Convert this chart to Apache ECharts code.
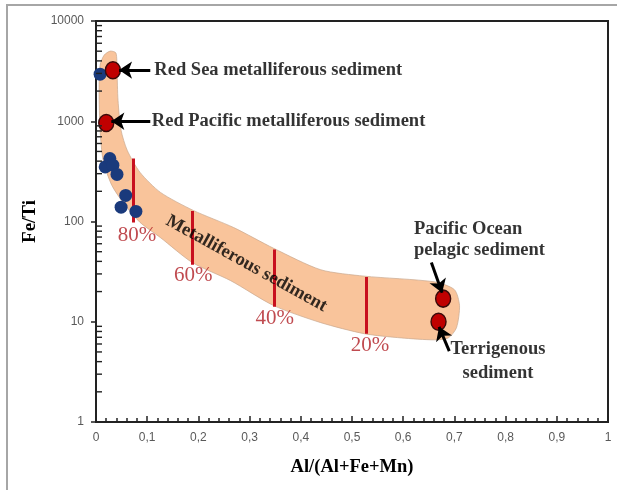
<!DOCTYPE html>
<html>
<head>
<meta charset="utf-8">
<script src="https://cdn.jsdelivr.net/npm/echarts@6/dist/echarts.min.js"></script>
<style>
html, body { margin: 0; padding: 0; background: #fff; }
#chart { width: 617px; height: 490px; }
</style>
</head>
<body>
<div id="chart"></div>
<script>
// sample points
var blueX = [0.008, 0.018, 0.027, 0.033, 0.041, 0.058, 0.049, 0.078];
var blueY = [2950, 350, 425, 365, 295, 182, 139, 126];
var redX = [0.033, 0.020, 0.678, 0.669];
var redY = [3230, 960, 17, 10];

// metalliferous sediment band outline (upper edge then lower edge)
var bandX = [0.016, 0.028, 0.039, 0.041, 0.043, 0.049, 0.061, 0.086, 0.126, 0.19, 0.269, 0.347, 0.439, 0.524, 0.661, 0.70, 0.71, 0.704, 0.688,
             0.661, 0.596, 0.524, 0.439, 0.347, 0.263, 0.188, 0.126, 0.086, 0.057, 0.031, 0.014, 0.008, 0.006, 0.008];
var bandY = [4570, 5010, 4790, 3240, 1620, 813, 513, 309, 195, 129, 87, 54, 33, 28.5, 25, 20.9, 14.5, 8.7, 6.9,
             6.6, 6.9, 7.6, 9.8, 14.5, 25.7, 39, 69, 98, 145, 229, 407, 813, 2040, 3630];

// mixing lines
var pctX = [0.072, 0.188, 0.349, 0.527];
var pctLow = [98, 37, 14.1, 7.6];
var pctHigh = [424, 127, 52.5, 28];
var pctText = ['80%', '60%', '40%', '20%'];
var pctLabX = [0.080, 0.190, 0.349, 0.535];
var pctLabY = [72, 28.8, 10.7, 5.75];

// annotations
var noteText = ['Red Sea metalliferous sediment', 'Red Pacific metalliferous sediment', 'Pacific Ocean\npelagic sediment'];
var noteX = [0.114, 0.109, 0.621];
var noteY = [3236, 1000, 66];
var arrowFrom = [[0.106, 3236], [0.106, 1000], [0.655, 38.9], [0.690, 5.1]];
var arrowTo = [[0.045, 3236], [0.030, 1000], [0.676, 19.5], [0.670, 8.9]];

// log minor ticks on the Fe/Ti axis
var yMinorTicks = [2, 3, 4, 5, 6, 7, 8, 9, 20, 30, 40, 50, 60, 70, 80, 90,
                   200, 300, 400, 500, 600, 700, 800, 900, 2000, 3000, 4000, 5000, 6000, 7000, 8000, 9000];

var chart = echarts.init(document.getElementById('chart'));

var serif = 'Liberation Serif';

var option = {
    animation: false,
    graphic: [{
        type: 'polyline',
        shape: { points: [[7, 490], [7, 5], [617, 5]] },
        style: { stroke: '#a6a6a6', lineWidth: 2, fill: null }
    }],
    grid: {
        left: 96, right: 9, top: 21, bottom: 68,
        show: true, borderColor: '#222', borderWidth: 2
    },
    xAxis: {
        type: 'value',
        min: 0, max: 1, interval: 0.1,
        name: 'Al/(Al+Fe+Mn)',
        nameLocation: 'middle',
        nameGap: 36,
        nameTextStyle: { fontFamily: serif, fontWeight: 'bold', fontSize: 18.5, color: '#000' },
        axisLine: { lineStyle: { color: '#222', width: 2 } },
        axisTick: { show: true, inside: true, length: 6, lineStyle: { color: '#222', width: 1.5 } },
        minorTick: { show: true, splitNumber: 5, length: 4, lineStyle: { color: '#222', width: 1.5 } },
        splitLine: { show: false },
        axisLabel: {
            color: '#595959', fontSize: 12, fontFamily: 'Liberation Sans', margin: 10,
            formatter: function (v) { return String(Math.round(v * 10) / 10).replace('.', ','); }
        }
    },
    yAxis: {
        type: 'log', logBase: 10,
        min: 1, max: 10000,
        name: 'Fe/Ti',
        nameLocation: 'middle',
        nameGap: 56,
        nameTextStyle: { fontFamily: serif, fontWeight: 'bold', fontSize: 19, color: '#000' },
        axisLine: { show: true, lineStyle: { color: '#222', width: 2 } },
        axisTick: { show: true, length: 5, lineStyle: { color: '#222', width: 1.5 } },
        splitLine: { show: false },
        axisLabel: {
            color: '#595959', fontSize: 12, fontFamily: 'Liberation Sans', margin: 12,
            formatter: function (v) { return String(Math.round(v)); }
        }
    },
    series: [{
        type: 'custom',
        z: 1,
        clip: false,
        silent: true,
        data: [[bandX[0], bandY[0]]],
        renderItem: function (params, api) {
            var pts = bandX.map(function (x, i) { return api.coord([x, bandY[i]]); });
            return {
                type: 'polygon',
                shape: { points: pts, smooth: 0.25 },
                style: { fill: '#F9C49B', stroke: '#c8a88e', lineWidth: 0.7 }
            };
        }
    }, {
        // minor ticks of the log axis, drawn inside the plot
        type: 'scatter',
        z: 10,
        silent: true,
        clip: false,
        symbol: 'rect',
        symbolSize: [6, 1.4],
        symbolOffset: [3, 0],
        itemStyle: { color: '#222', opacity: 1 },
        data: yMinorTicks.map(function (v) { return [0, v]; })
    }, {
        type: 'lines',
        coordinateSystem: 'cartesian2d',
        z: 2,
        symbol: 'none',
        lineStyle: { color: '#C8101E', width: 3, opacity: 1 },
        data: pctX.map(function (x, i) { return { coords: [[x, pctLow[i]], [x, pctHigh[i]]] }; })
    }, {
        type: 'scatter',
        z: 3,
        symbolSize: 0,
        data: pctText.map(function (t, i) { return { name: t, value: [pctLabX[i], pctLabY[i]] }; }),
        label: {
            show: true, position: 'inside', formatter: '{b}',
            color: '#B01E24', fontFamily: serif, fontSize: 21
        }
    }, {
        type: 'scatter',
        z: 3,
        symbolSize: 0,
        data: [{ name: 'Metalliferous sediment', value: [0.294, 38] }],
        label: {
            show: true, position: 'inside', formatter: '{b}', rotate: -29,
            color: '#000', fontFamily: serif, fontWeight: 'bold', fontSize: 18.5
        }
    }, {
        type: 'scatter',
        z: 4,
        symbolSize: 13,
        itemStyle: { color: '#1A3A7C', opacity: 1 },
        data: blueX.map(function (x, i) { return [x, blueY[i]]; })
    }, {
        type: 'scatter',
        z: 4,
        symbolSize: [15, 17],
        itemStyle: { color: '#C00000', borderColor: '#3a0a0a', borderWidth: 1.5, opacity: 1 },
        data: redX.map(function (x, i) { return [x, redY[i]]; })
    }, {
        type: 'lines',
        coordinateSystem: 'cartesian2d',
        z: 5,
        symbol: ['none', 'arrow'],
        symbolSize: 13,
        lineStyle: { color: '#000', width: 3, opacity: 1 },
        data: arrowFrom.map(function (f, i) { return { coords: [f, arrowTo[i]] }; })
    }, {
        type: 'scatter',
        z: 5,
        symbolSize: 0,
        data: noteText.map(function (t, i) { return { name: t, value: [noteX[i], noteY[i]] }; }),
        label: {
            show: true, position: 'right', distance: 0, formatter: '{b}', align: 'left',
            color: '#000', fontFamily: serif, fontWeight: 'bold', fontSize: 18.5, lineHeight: 21
        }
    }, {
        type: 'scatter',
        z: 5,
        symbolSize: 0,
        data: [{ name: 'Terrigenous\nsediment', value: [0.785, 4.0] }],
        label: {
            show: true, position: 'inside', formatter: '{b}', align: 'center',
            color: '#000', fontFamily: serif, fontWeight: 'bold', fontSize: 18.5, lineHeight: 24
        }
    }]
};

chart.setOption(option);
</script>
</body>
</html>
